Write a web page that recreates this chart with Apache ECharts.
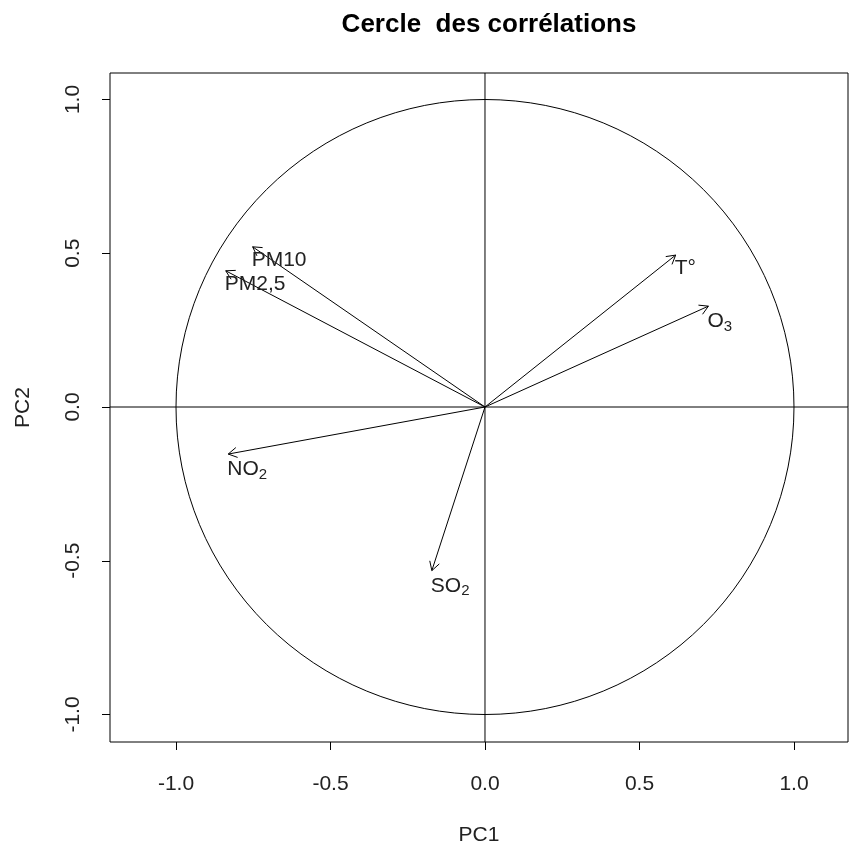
<!DOCTYPE html>
<html>
<head>
<meta charset="utf-8">
<script src="https://cdn.jsdelivr.net/npm/echarts@6/dist/echarts.min.js"></script>
<style>
  html, body { margin: 0; padding: 0; background: #fff; }
  #chart { width: 849px; height: 843px; }
</style>
</head>
<body>
<div id="chart"></div>
<script>
// variables du cercle des corrélations (PC1, PC2)
const varLabels = ['PM10', 'PM2,5', 'T°', 'O{s|3}', 'NO{s|2}', 'SO{s|2}'];
const pc1 = [-0.752, -0.839, 0.617, 0.723, -0.831, -0.172];
const pc2 = [0.521, 0.443, 0.494, 0.328, -0.153, -0.532];
const tickValues = [-1, -0.5, 0, 0.5, 1];

const X_MIN = -1.2136, X_MAX = 1.1748;
const Y_MIN = -1.0894, Y_MAX = 1.0862;
const FONT = '"Liberation Sans", Arial, sans-serif';

const chart = echarts.init(document.getElementById('chart'));

function renderCircle(params, api) {
  const c = api.coord([0, 0]);
  const r = api.size([1, 1]);
  const rx = r[0], ry = r[1];
  const left = api.coord([X_MIN, 0]);
  const right = api.coord([X_MAX, 0]);
  const top = api.coord([0, Y_MAX]);
  const bottom = api.coord([0, Y_MIN]);
  const path = 'M ' + (c[0] - rx) + ' ' + c[1] +
    ' A ' + rx + ' ' + ry + ' 0 1 0 ' + (c[0] + rx) + ' ' + c[1] +
    ' A ' + rx + ' ' + ry + ' 0 1 0 ' + (c[0] - rx) + ' ' + c[1] + ' Z';
  return {
    type: 'group',
    children: [
      { type: 'path', shape: { pathData: path }, style: { fill: null, stroke: '#000', lineWidth: 1 } },
      { type: 'line', shape: { x1: left[0], y1: left[1], x2: right[0], y2: right[1] }, style: { stroke: '#000', lineWidth: 1 } },
      { type: 'line', shape: { x1: top[0], y1: top[1], x2: bottom[0], y2: bottom[1] }, style: { stroke: '#000', lineWidth: 1 } }
    ]
  };
}

function renderArrow(params, api) {
  const o = api.coord([0, 0]);
  const p = api.coord([api.value(0), api.value(1)]);
  const ang = Math.atan2(p[1] - o[1], p[0] - o[0]);
  const len = 10, spread = Math.PI / 6;
  const h1 = [p[0] - len * Math.cos(ang - spread), p[1] - len * Math.sin(ang - spread)];
  const h2 = [p[0] - len * Math.cos(ang + spread), p[1] - len * Math.sin(ang + spread)];
  return {
    type: 'group',
    children: [
      { type: 'line', shape: { x1: o[0], y1: o[1], x2: p[0], y2: p[1] }, style: { stroke: '#000', lineWidth: 1 } },
      { type: 'polyline', shape: { points: [h1, p, h2] }, style: { stroke: '#000', fill: null, lineWidth: 1 } },
      {
        type: 'text',
        style: {
          text: varLabels[params.dataIndex],
          x: p[0] - 1,
          y: p[1] + 3,
          align: 'left',
          verticalAlign: 'top',
          fill: '#222',
          fontSize: 21,
          fontFamily: FONT,
          rich: {
            s: { fontSize: 15, fontFamily: FONT, fill: '#222', padding: [10, 0, 0, 0], verticalAlign: 'bottom' }
          }
        }
      }
    ]
  };
}

chart.setOption({
  animation: false,
  backgroundColor: '#fff',
  title: {
    text: 'Cercle  des corrélations',
    left: 484,
    textAlign: 'center',
    top: 7,
    textStyle: { fontFamily: FONT, fontWeight: 'bold', fontSize: 26, color: '#000' }
  },
  grid: {
    left: 110,
    right: 1,
    top: 73,
    bottom: 101,
    show: true,
    borderColor: '#000',
    borderWidth: 1,
    containLabel: false,
    outerBoundsMode: 'none'
  },
  xAxis: {
    type: 'value',
    min: X_MIN,
    max: X_MAX,
    name: 'PC1',
    nameLocation: 'middle',
    nameGap: 83,
    nameTextStyle: { fontFamily: FONT, fontSize: 21, color: '#222' },
    axisLine: { show: false, onZero: false },
    axisTick: { show: true, customValues: tickValues, length: 8, lineStyle: { color: '#000' } },
    axisLabel: {
      customValues: tickValues,
      formatter: v => v.toFixed(1),
      margin: 32,
      fontFamily: FONT,
      fontSize: 21,
      color: '#222'
    },
    splitLine: { show: false }
  },
  yAxis: {
    type: 'value',
    min: Y_MIN,
    max: Y_MAX,
    name: 'PC2',
    nameLocation: 'middle',
    nameGap: 76,
    nameTextStyle: { fontFamily: FONT, fontSize: 21, color: '#222' },
    axisLine: { show: false, onZero: false },
    axisTick: { show: true, customValues: tickValues, length: 8, lineStyle: { color: '#000' } },
    axisLabel: {
      customValues: tickValues,
      formatter: v => v.toFixed(1),
      rotate: 90,
      margin: 26,
      fontFamily: FONT,
      fontSize: 21,
      color: '#222'
    },
    splitLine: { show: false }
  },
  series: [
    {
      type: 'custom',
      renderItem: renderCircle,
      data: [[0, 0]],
      silent: true,
      clip: true
    },
    {
      type: 'custom',
      renderItem: renderArrow,
      data: pc1.map((x, i) => [x, pc2[i]]),
      silent: true
    }
  ]
});
</script>
</body>
</html>
